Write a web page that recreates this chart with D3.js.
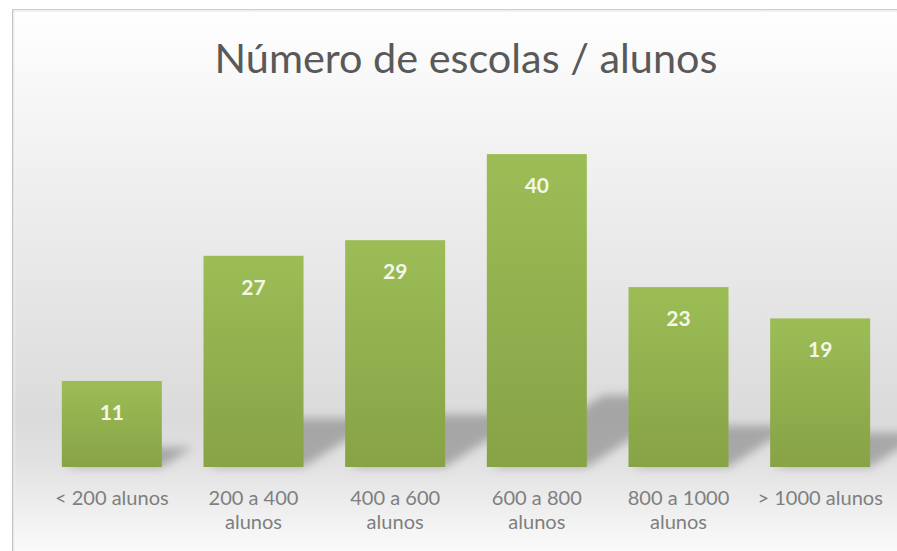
<!DOCTYPE html>
<html>
<head>
<meta charset="utf-8">
<script src="https://cdn.jsdelivr.net/npm/d3@7"></script>
<style>
  html, body { margin: 0; background: #fff; overflow: hidden; }
  svg { display: block; }
</style>
</head>
<body>
<div id="chart"></div>
<script>
// data
const categories = ['< 200 alunos', '200 a 400 alunos', '400 a 600 alunos',
                    '600 a 800 alunos', '800 a 1000 alunos', '> 1000 alunos'];
const values = [11, 27, 29, 40, 23, 19];
const title = 'Número de escolas / alunos';

const W = 897, H = 551;
const FONT = 'Lato, "Open Sans", sans-serif';

const svg = d3.select('#chart').append('svg')
  .attr('width', W).attr('height', H);

const defs = svg.append('defs');

// chart area background
const bg = defs.append('linearGradient').attr('id', 'bg')
  .attr('gradientUnits', 'userSpaceOnUse')
  .attr('x1', 0).attr('y1', 9).attr('x2', 0).attr('y2', 560);
[[0, '#ffffff'], [0.25, '#f2f2f2'], [0.74, '#dbdbdb'], [0.82, '#e1e1e1'], [1, '#fdfdfd']]
  .forEach(([o, c]) => bg.append('stop').attr('offset', o).attr('stop-color', c));

const topEdge = defs.append('linearGradient').attr('id', 'topEdge')
  .attr('x1', 0).attr('y1', 0).attr('x2', 0).attr('y2', 1);
topEdge.append('stop').attr('offset', 0).attr('stop-color', '#d6d6d6');
topEdge.append('stop').attr('offset', 1).attr('stop-color', '#ffffff').attr('stop-opacity', 0);

const leftEdge = defs.append('linearGradient').attr('id', 'leftEdge')
  .attr('x1', 0).attr('y1', 0).attr('x2', 1).attr('y2', 0);
leftEdge.append('stop').attr('offset', 0).attr('stop-color', '#d0d0d0');
leftEdge.append('stop').attr('offset', 1).attr('stop-color', '#ffffff').attr('stop-opacity', 0);

const barGrad = defs.append('linearGradient').attr('id', 'bar')
  .attr('x1', 0).attr('y1', 0).attr('x2', 0).attr('y2', 1);
barGrad.append('stop').attr('offset', 0).attr('stop-color', '#9cbd56');
barGrad.append('stop').attr('offset', 1).attr('stop-color', '#87a346');

// blur region kept to the lower part of the plot, inside the svg
defs.append('filter').attr('id', 'blur')
  .attr('filterUnits', 'userSpaceOnUse')
  .attr('x', 12).attr('y', 300).attr('width', W - 12).attr('height', 200)
  .append('feGaussianBlur').attr('stdDeviation', 5);

// frame + background
svg.append('rect')
  .attr('x', 12).attr('y', 9).attr('width', W - 12).attr('height', H - 9)
  .attr('fill', 'url(#bg)');
svg.append('rect')
  .attr('x', 12).attr('y', 9).attr('width', W - 12).attr('height', 5)
  .attr('fill', 'url(#topEdge)');
svg.append('rect')
  .attr('x', 12).attr('y', 9).attr('width', 4).attr('height', H - 9)
  .attr('fill', 'url(#leftEdge)');
svg.append('line')
  .attr('x1', 12.5).attr('x2', 12.5).attr('y1', 9).attr('y2', H)
  .attr('stroke', '#c4c4c4');
svg.append('line')
  .attr('x1', 12).attr('x2', W).attr('y1', 9.5).attr('y2', 9.5)
  .attr('stroke', '#d0d0d0');

// scales
const x = d3.scaleBand()
  .domain(categories)
  .range([41, 891])
  .paddingInner(0.294)
  .paddingOuter(0.147);

const y = d3.scaleLinear()
  .domain([0, 45])
  .range([467, 115]);

const data = categories.map((c, i) => ({ cat: c, value: values[i] }));

// perspective shadows
const base = y(0);
svg.append('g').attr('filter', 'url(#blur)')
  .selectAll('polygon')
  .data(data)
  .join('polygon')
  .attr('fill', '#7a7a7a')
  .attr('opacity', 0.55)
  .attr('points', d => {
    const x0 = x(d.cat) + 4, x1 = x(d.cat) + x.bandwidth();
    const h = base - y(d.value);
    const dx = h * 0.36, dy = h * 0.23;
    return [[x0, base], [x1, base], [x1 + dx, base - dy], [x0 + dx, base - dy]]
      .map(p => p.join(',')).join(' ');
  });

// bars
svg.append('g').selectAll('rect')
  .data(data)
  .join('rect')
  .attr('x', d => x(d.cat))
  .attr('y', d => y(d.value))
  .attr('width', x.bandwidth())
  .attr('height', d => y(0) - y(d.value))
  .attr('fill', 'url(#bar)');

// value labels
svg.append('g').selectAll('text')
  .data(data)
  .join('text')
  .attr('x', d => x(d.cat) + x.bandwidth() / 2)
  .attr('y', d => y(d.value) + 39)
  .attr('text-anchor', 'middle')
  .attr('font-family', FONT)
  .attr('font-weight', 700)
  .attr('font-size', 21)
  .attr('fill', '#f3f7e8')
  .text(d => d.value);

// category labels, sized so the first label matches the reference width,
// then wrapped to the band step
const labels = svg.append('g')
  .attr('font-family', FONT)
  .attr('font-size', 16)
  .attr('fill', '#7f7f7f')
  .attr('text-anchor', 'middle');

const probe = labels.append('text').text(categories[0]);
const labelSize = 16 * 114 / probe.node().getComputedTextLength();
probe.remove();
labels.attr('font-size', labelSize);

categories.forEach(c => {
  const cx = x(c) + x.bandwidth() / 2;
  const t = labels.append('text').attr('x', cx).attr('y', 505);
  const words = c.split(' ');
  let line = [];
  let tspan = t.append('tspan').attr('x', cx);
  words.forEach(w => {
    line.push(w);
    tspan.text(line.join(' '));
    if (tspan.node().getComputedTextLength() > x.step() - 4 && line.length > 1) {
      line.pop();
      tspan.text(line.join(' '));
      line = [w];
      tspan = t.append('tspan').attr('x', cx).attr('dy', 24).text(w);
    }
  });
});

// title, sized to the reference width
const tt = svg.append('text')
  .attr('x', 466)
  .attr('y', 73)
  .attr('text-anchor', 'middle')
  .attr('font-family', FONT)
  .attr('font-size', 40)
  .attr('fill', '#595959')
  .text(title);
const tw = tt.node().getComputedTextLength();
tt.attr('font-size', 40 * 503 / tw);
</script>
</body>
</html>
